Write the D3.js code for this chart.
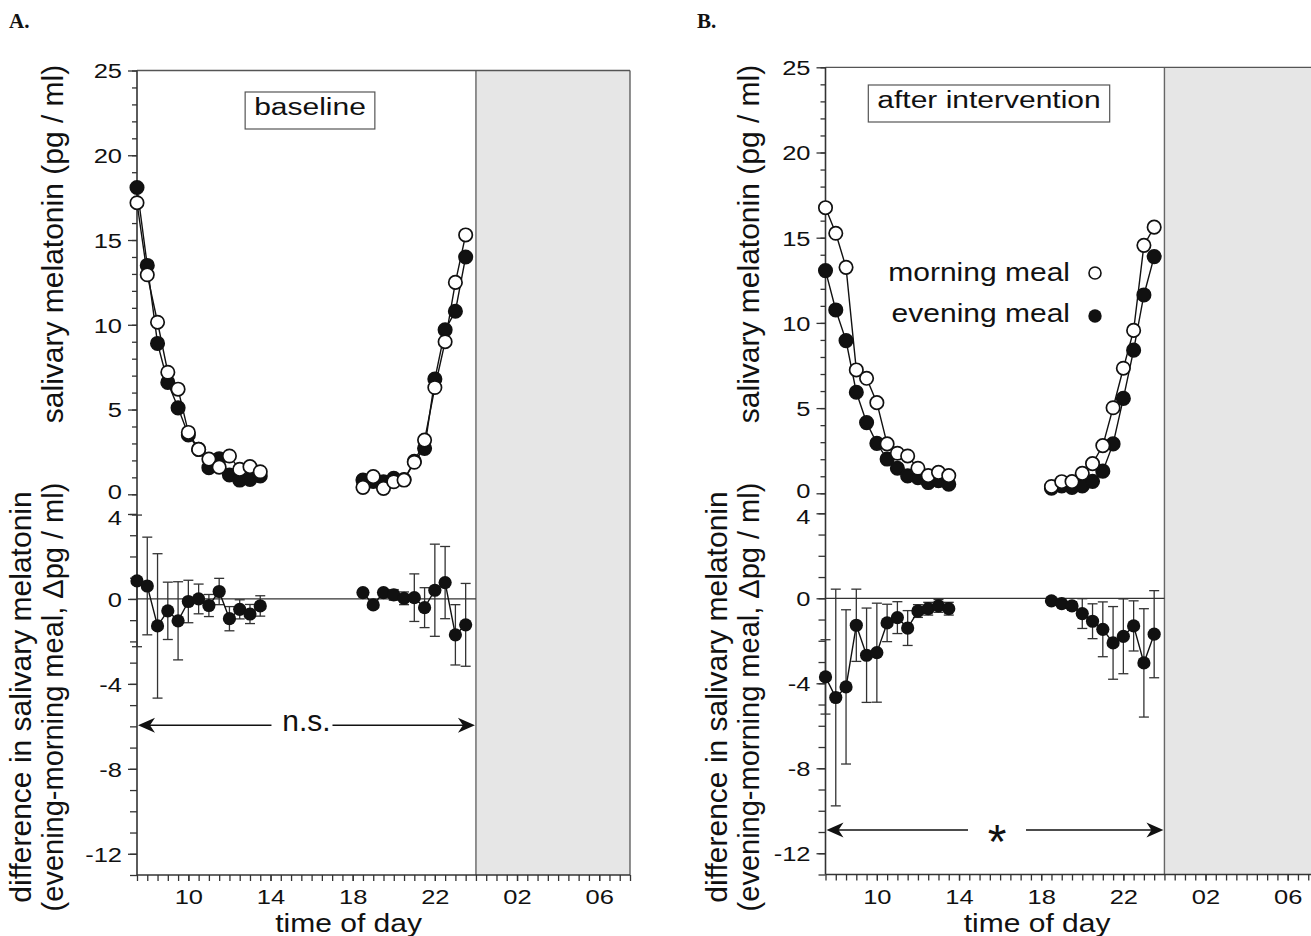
<!DOCTYPE html>
<html><head><meta charset="utf-8">
<script src="https://cdn.jsdelivr.net/npm/d3@7"></script>
<style>body{margin:0;background:#fff} svg{display:block}</style>
</head><body>
<svg id="chart" width="1311" height="936"></svg>
<script>
// ---------- data ----------
const timesAM = [7.5, 8, 8.5, 9, 9.5, 10, 10.5, 11, 11.5, 12, 12.5, 13, 13.5];
const timesPM = [18.5, 19, 19.5, 20, 20.5, 21, 21.5, 22, 22.5, 23, 23.5];

// Panel A (baseline)
const baseMorningAM = [17.2, 12.95, 10.15, 7.2, 6.2, 3.65, 2.65, 2.08, 1.6, 2.26, 1.47, 1.63, 1.33];
const baseEveningAM = [18.1, 13.5, 8.9, 6.6, 5.1, 3.5, 2.65, 1.57, 2.1, 1.14, 0.84, 0.88, 1.08];
const baseMorningPM = [0.41, 1.04, 0.35, 0.74, 0.84, 1.89, 3.2, 6.3, 9.0, 12.5, 15.3];
const baseEveningPM = [0.84, 0.76, 0.74, 0.94, 0.87, 1.95, 2.71, 6.8, 9.7, 10.8, 14.0];
const baseDiffAM = [0.85, 0.61, -1.27, -0.56, -1.03, -0.12, 0.0, -0.31, 0.35, -0.93, -0.49, -0.71, -0.33];
const baseErrAM  = [3.1, 2.3, 3.4, 1.35, 1.84, 1.0, 0.7, 0.52, 0.62, 0.57, 0.45, 0.45, 0.48];
const baseDiffPM = [0.3, -0.28, 0.3, 0.19, 0.03, 0.06, -0.41, 0.41, 0.77, -1.69, -1.22];
const baseErrPM  = [0.15, 0.15, 0.12, 0.25, 0.3, 1.12, 0.94, 2.17, 1.7, 1.42, 1.95];

// Panel B (after intervention)
const intMorningAM = [16.76, 15.26, 13.26, 7.24, 6.75, 5.32, 2.9, 2.35, 2.19, 1.47, 1.04, 1.23, 1.04];
const intEveningAM = [13.07, 10.76, 8.96, 5.93, 4.15, 2.93, 2.01, 1.47, 1.02, 0.92, 0.63, 0.74, 0.53];
const intMorningPM = [0.4, 0.68, 0.69, 1.17, 1.74, 2.8, 5.02, 7.34, 9.56, 14.55, 15.62];
const intEveningPM = [0.3, 0.43, 0.35, 0.43, 0.7, 1.3, 2.9, 5.57, 8.4, 11.64, 13.89];
const intDiffAM = [-3.7, -4.67, -4.17, -1.27, -2.68, -2.56, -1.16, -0.91, -1.4, -0.6, -0.49, -0.36, -0.49];
const intErrAM  = [1.75, 5.1, 3.63, 1.7, 2.22, 2.33, 0.88, 0.75, 0.82, 0.3, 0.3, 0.3, 0.3];
const intDiffPM = [-0.12, -0.25, -0.36, -0.72, -1.08, -1.46, -2.1, -1.79, -1.3, -3.04, -1.69];
const intErrPM  = [0.1, 0.12, 0.2, 0.7, 0.82, 1.29, 1.71, 1.76, 1.18, 2.55, 2.05];

// ticks
const xTickValues = [10, 14, 18, 22, 26, 30];
const xTickLabels = ["10", "14", "18", "22", "02", "06"];
const yTopTicks = [0, 5, 10, 15, 20, 25];
const yBotTicks = [-12, -8, -4, 0, 4];

// ---------- drawing ----------
const svg = d3.select('#chart');
const FONT = "'Liberation Sans', Arial, Helvetica, sans-serif";
const INK = '#111';
const AX = '#333';

function sText(g, x, y, txt, size, sy, anchor) {
  return g.append('text')
    .attr('transform', `translate(${x},${y}) scale(1,${sy})`)
    .attr('text-anchor', anchor || 'middle')
    .attr('font-family', FONT).attr('font-size', size).attr('fill', INK)
    .text(txt);
}

function arrowHead(g, tipX, y, dir) {
  const d = dir;
  g.append('path')
    .attr('d', `M${tipX},${y} L${tipX - d*17},${y-7.5} L${tipX - d*12},${y} L${tipX - d*17},${y+7.5} Z`)
    .attr('fill', INK);
}

function panel(cfg) {
  const g = svg.append('g');
  const x = d3.scaleLinear().domain([7.5, 31.5]).range([cfg.left, cfg.left + 493]);
  const yT = d3.scaleLinear().domain([0, 25]).range([cfg.zeroTop, cfg.top]);
  const yB = d3.scaleLinear().domain([-13, 4]).range([cfg.bottom, cfg.fourBot]);

  // night shading
  g.append('rect').attr('x', x(24)).attr('y', cfg.top)
    .attr('width', x(31.5) - x(24)).attr('height', cfg.bottom - cfg.top)
    .attr('fill', '#e6e6e6');
  g.append('line').attr('x1', x(24)).attr('x2', x(24)).attr('y1', cfg.top).attr('y2', cfg.bottom)
    .attr('stroke', '#666').attr('stroke-width', 1.4);
  // frame
  g.append('line').attr('x1', x(7.5)).attr('x2', x(31.5)).attr('y1', cfg.top).attr('y2', cfg.top)
    .attr('stroke', '#555').attr('stroke-width', 1.3);
  g.append('line').attr('x1', x(31.5)).attr('x2', x(31.5)).attr('y1', cfg.top).attr('y2', cfg.bottom)
    .attr('stroke', '#555').attr('stroke-width', 1.3);
  g.append('line').attr('x1', x(7.5)).attr('x2', x(7.5)).attr('y1', cfg.top).attr('y2', cfg.bottom)
    .attr('stroke', AX).attr('stroke-width', 1.6);
  g.append('line').attr('x1', x(7.5)).attr('x2', x(31.5)).attr('y1', cfg.bottom).attr('y2', cfg.bottom)
    .attr('stroke', AX).attr('stroke-width', 1.6);

  const fmt = d => String(d);
  const axMinorT = d3.axisLeft(yT).tickValues(d3.range(0, 26, 1)).tickSize(5).tickFormat('');
  const axMajorT = d3.axisLeft(yT).tickValues(yTopTicks).tickSize(9).tickFormat(fmt);
  const axMinorB = d3.axisLeft(yB).tickValues(d3.range(-13, 5, 1)).tickSize(7).tickFormat('');
  const axMajorB = d3.axisLeft(yB).tickValues(yBotTicks).tickSize(9).tickFormat(fmt);
  // nudge the two labels that sit at the panel junction apart a little
  const nudge = [{ top: true, v: 0, dy: -3 }, { top: false, v: 4, dy: 3 }];
  [[axMinorT, true], [axMajorT, true], [axMinorB, false], [axMajorB, false]].forEach(([ax, isTop]) => {
    const a = g.append('g').attr('transform', `translate(${x(7.5)},0)`).call(ax);
    a.select('.domain').remove();
    a.selectAll('line').attr('stroke', AX).attr('stroke-width', 1.3);
    a.selectAll('text').attr('x', null).attr('dy', null)
      .attr('transform', d => {
        const n = nudge.find(k => k.top === isTop && k.v === d);
        return `translate(-15,${7.3 + (n ? n.dy : 0)}) scale(1,0.8)`;
      })
      .attr('font-family', FONT).attr('font-size', 25.5).attr('fill', INK);
  });
  const axMinorX = d3.axisBottom(x).tickValues(d3.range(7.5, 31.51, 0.5)).tickSize(6).tickFormat('');
  const axMajorX = d3.axisBottom(x).tickValues(xTickValues).tickSize(6)
    .tickFormat((d, i) => xTickLabels[i]);
  [axMinorX, axMajorX].forEach(ax => {
    const a = g.append('g').attr('transform', `translate(0,${cfg.bottom})`).call(ax);
    a.select('.domain').remove();
    a.selectAll('line').attr('stroke', AX).attr('stroke-width', 1.3);
    a.selectAll('text').attr('y', null).attr('dy', null)
      .attr('transform', 'translate(0,29) scale(1,0.82)')
      .attr('font-family', FONT).attr('font-size', 25.5).attr('fill', INK);
  });

  // zero line bottom
  g.append('line').attr('x1', x(7.5)).attr('x2', x(24)).attr('y1', yB(0)).attr('y2', yB(0))
    .attr('stroke', AX).attr('stroke-width', 1.3);

  // top panel series
  const line = d3.line().x(d => x(d[0])).y(d => yT(d[1]));
  const segs = (t, v) => t.map((tt, i) => [tt, v[i]]);
  const series = [
    { am: cfg.evAM, pm: cfg.evPM, fill: INK },
    { am: cfg.moAM, pm: cfg.moPM, fill: '#fff' }
  ];
  series.forEach(s => {
    [segs(timesAM, s.am), segs(timesPM, s.pm)].forEach(pts => {
      g.append('path').datum(pts).attr('d', line).attr('fill', 'none')
        .attr('stroke', INK).attr('stroke-width', 1.4);
    });
  });
  series.forEach(s => {
    [segs(timesAM, s.am), segs(timesPM, s.pm)].forEach(pts => {
      g.selectAll(null).data(pts).enter().append('circle')
        .attr('cx', d => x(d[0])).attr('cy', d => yT(d[1])).attr('r', 6.7)
        .attr('fill', s.fill).attr('stroke', INK).attr('stroke-width', 1.7);
    });
  });

  // bottom panel
  const lineB = d3.line().x(d => x(d[0])).y(d => yB(d[1]));
  [[timesAM, cfg.dAM, cfg.eAM], [timesPM, cfg.dPM, cfg.ePM]].forEach(([t, v, e]) => {
    const pts = t.map((tt, i) => ({ t: tt, v: v[i], e: e[i] }));
    const eg = g.append('g').attr('stroke', '#333').attr('stroke-width', 1.3);
    pts.forEach(p => {
      eg.append('line').attr('x1', x(p.t)).attr('x2', x(p.t)).attr('y1', yB(p.v - p.e)).attr('y2', yB(p.v + p.e));
      [p.v - p.e, p.v + p.e].forEach(yy => {
        eg.append('line').attr('x1', x(p.t) - 5).attr('x2', x(p.t) + 5).attr('y1', yB(yy)).attr('y2', yB(yy));
      });
    });
    g.append('path').datum(pts.map(p => [p.t, p.v])).attr('d', lineB).attr('fill', 'none')
      .attr('stroke', INK).attr('stroke-width', 1.4);
    g.selectAll(null).data(pts).enter().append('circle')
      .attr('cx', p => x(p.t)).attr('cy', p => yB(p.v)).attr('r', 6.6).attr('fill', INK);
  });

  // title box
  const rect = g.append('rect');
  const tt = sText(g, cfg.boxCx, cfg.boxBase, cfg.title, 30, 0.82);
  const bb = tt.node().getBBox();
  rect.attr('x', cfg.boxCx - bb.width / 2 - 9).attr('y', cfg.boxBase - 23)
    .attr('width', bb.width + 18).attr('height', 37)
    .attr('fill', '#fff').attr('stroke', '#555').attr('stroke-width', 1.2);

  // significance arrow
  const ay = yB(cfg.arrowVal);
  sText(g, x(cfg.labT), ay + cfg.labDy, cfg.sig, cfg.sigSize, 1);
  g.append('line').attr('x1', x(7.5) + 8).attr('x2', x(cfg.labT) - cfg.gapL).attr('y1', ay).attr('y2', ay)
    .attr('stroke', INK).attr('stroke-width', 1.5);
  g.append('line').attr('x1', x(cfg.labT) + cfg.gapR).attr('x2', x(24) - 8).attr('y1', ay).attr('y2', ay)
    .attr('stroke', INK).attr('stroke-width', 1.5);
  arrowHead(g, x(7.5) + 1, ay, -1);
  arrowHead(g, x(24) - 1, ay, 1);

  // axis titles
  const rot = (tx, ty, txt, fs) => g.append('text')
    .attr('transform', `translate(${tx},${ty}) rotate(-90)`).attr('text-anchor', 'middle')
    .attr('font-family', FONT).attr('font-size', fs).attr('fill', INK).text(txt);
  rot(cfg.left - 74 + cfg.labOff, 244, 'salivary melatonin (pg / ml)', 30);
  rot(cfg.left - 106 + cfg.labOff, 697, 'difference in salivary melatonin', 30);
  rot(cfg.left - 74 + cfg.labOff, 697, '(evening-morning meal, \u0394pg / ml)', 29);
  sText(g, x(17.8), 932, 'time of day', 30, 0.85);

  // panel letter
  g.append('text').attr('x', cfg.letterX).attr('y', 28)
    .attr('font-family', "'Liberation Serif', 'Times New Roman', serif").attr('font-weight', 'bold')
    .attr('font-size', 21).attr('fill', INK).text(cfg.letter);

  return { g, x, yT };
}

panel({
  left: 137, top: 70.5, zeroTop: 494.3, fourBot: 514, bottom: 875, labOff: 0,
  moAM: baseMorningAM, moPM: baseMorningPM, evAM: baseEveningAM, evPM: baseEveningPM,
  dAM: baseDiffAM, eAM: baseErrAM, dPM: baseDiffPM, ePM: baseErrPM,
  title: 'baseline', boxCx: 310, boxBase: 115,
  arrowVal: -5.95, labT: 15.75, labDy: 6, gapL: 35, gapR: 26, sig: 'n.s.', sigSize: 30,
  letter: 'A.', letterX: 9
});

const pB = panel({
  left: 825.5, top: 67.3, zeroTop: 493.3, fourBot: 513.3, bottom: 874.5, labOff: 7,
  moAM: intMorningAM, moPM: intMorningPM, evAM: intEveningAM, evPM: intEveningPM,
  dAM: intDiffAM, eAM: intErrAM, dPM: intDiffPM, ePM: intErrPM,
  title: 'after intervention', boxCx: 989, boxBase: 108,
  arrowVal: -10.9, labT: 15.85, labDy: 28, gapL: 29, gapR: 29, sig: '*', sigSize: 48,
  letter: 'B.', letterX: 697
});

// legend (panel B)
const lg = pB.g;
sText(lg, 1070, 281, 'morning meal', 30, 0.88, 'end');
sText(lg, 1070, 322, 'evening meal', 30, 0.88, 'end');
lg.append('circle').attr('cx', 1095).attr('cy', 273).attr('r', 6).attr('fill', '#fff')
  .attr('stroke', INK).attr('stroke-width', 1.6);
lg.append('circle').attr('cx', 1095).attr('cy', 316).attr('r', 6.7).attr('fill', INK);
</script>
</body></html>
